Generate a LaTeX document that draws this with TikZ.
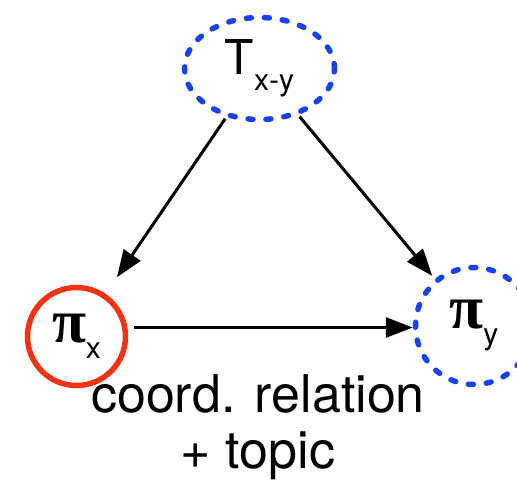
\documentclass[tikz,border=0pt]{standalone}
\usepackage{fontspec}
\setmainfont{TeX Gyre Heros}
\newfontfamily\pifont{Liberation Serif}
\usetikzlibrary{arrows.meta,shapes.geometric}
\definecolor{topicblue}{RGB}{25,65,250}
\definecolor{coordred}{RGB}{245,50,20}
\newcommand{\lowsub}[1]{\raisebox{-16pt}{\fontsize{30}{30}\selectfont #1}}
\newcommand{\bigpi}{{\pifont\bfseries\fontsize{62}{62}\selectfont π}}
\begin{document}
\begin{tikzpicture}[
x=1pt, y=-1pt,
every node/.style={font=\fontsize{48}{56}\selectfont, inner sep=0pt},
latent/.style={
draw=topicblue,
line width=5.5pt,
dash pattern=on 5pt off 13pt,
line cap=round
},
observed/.style={
draw=coordred,
line width=5.5pt,
circle,
minimum size=98pt
},
arrow/.style={-{Triangle[length=27pt,width=20pt]}, line width=3pt}
]
\useasboundingbox (0,0) rectangle (517,484);
\node[latent,ellipse,minimum width=150pt,minimum height=102pt] (topic) at (259.5,68.5)
{T\lowsub{x-y}};
\node[observed] (pix) at (76.5,336.5)
{\bigpi\lowsub{x}};
\node[latent,circle,minimum size=117pt] (piy) at (474,326)
{\bigpi\lowsub{y}};
\node[anchor=base,align=center,font=\fontsize{52}{56}\selectfont] (label) at (258,468)
{coord. relation\\
+ topic};
\draw[arrow,shorten <=2pt,shorten >=20pt] (topic) -- (pix);
\draw[arrow,shorten <=2pt,shorten >=4pt] (topic) -- (piy);
\draw[arrow,shorten <=7pt] (pix.10) -- (pix.10 -| piy.west);
\end{tikzpicture}
\end{document}
